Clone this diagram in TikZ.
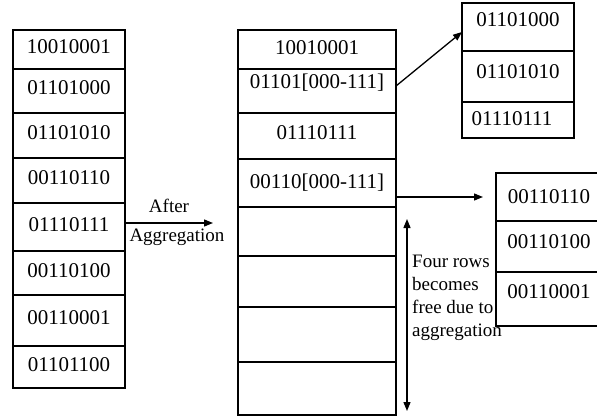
\documentclass[tikz,border=0pt]{standalone}
\usepackage{fontspec}
\setmainfont{Liberation Serif}
\usetikzlibrary{positioning,arrows.meta}
\tikzset{
  cell/.style={draw, line width=1.4pt, inner sep=0pt, outer sep=0pt,
    text height=14pt, text depth=6pt, font=\fontsize{21}{25}\selectfont},
  narrow/.style={cell, minimum width=112pt},
  wide/.style={cell, minimum width=158pt},
  link/.style={-{Triangle[length=9pt,width=7pt]}, line width=1.3pt},
  span/.style={{Triangle[length=9pt,width=7pt]}-{Triangle[length=9pt,width=7pt]}, line width=1.3pt},
  note/.style={font=\fontsize{19}{22.7}\selectfont, inner sep=0pt}
}

\begin{document}
\begin{tikzpicture}[x=1pt, y=-1pt]
  \useasboundingbox (0,0) rectangle (597,417);

  % Table before aggregation
  \node[narrow, minimum height=39pt, anchor=north west] (l1) at (13,30) {10010001};
  \node[narrow, minimum height=44pt, below=0pt of l1] (l2) {01101000};
  \node[narrow, minimum height=45pt, below=0pt of l2] (l3) {01101010};
  \node[narrow, minimum height=45pt, below=0pt of l3] (l4) {00110110};
  \node[narrow, minimum height=48pt, below=0pt of l4] (l5) {01110111};
  \node[narrow, minimum height=44pt, below=0pt of l5] (l6) {00110100};
  \node[narrow, minimum height=51pt, below=0pt of l6] (l7) {00110001};
  \node[narrow, minimum height=42pt, below=0pt of l7] (l8) {01101100};

  % Table after aggregation
  \node[wide, minimum height=39pt, text depth=4pt, anchor=north west] (m1) at (238,30) {10010001};
  \node[wide, minimum height=44pt, text depth=18pt, below=0pt of m1] (m2) {01101[000-111]};
  \node[wide, minimum height=46pt, text depth=7pt, below=0pt of m2] (m3) {01110111};
  \node[wide, minimum height=48pt, text depth=4pt, below=0pt of m3] (m4) {00110[000-111]};
  \node[wide, minimum height=49pt, below=0pt of m4] (m5) {};
  \node[wide, minimum height=51pt, below=0pt of m5] (m6) {};
  \node[wide, minimum height=55pt, below=0pt of m6] (m7) {};
  \node[wide, minimum height=53pt, below=0pt of m7] (m8) {};

  % Rows covered by 01101[000-111]
  \node[narrow, minimum height=48pt, text depth=14pt, anchor=north west] (t1) at (462,3) {01101000};
  \node[narrow, minimum height=51pt, text depth=10pt, below=0pt of t1] (t2) {01101010};
  \node[narrow, minimum height=36pt, text depth=3pt, below=0pt of t2] (t3) {01110111\hspace*{12pt}};

  % Rows covered by 00110[000-111]
  \node[cell, minimum width=106pt, minimum height=48pt, text depth=1pt, anchor=north west] (b1) at (496,173) {00110110};
  \node[cell, minimum width=106pt, minimum height=51pt, text depth=10pt, below=0pt of b1] (b2) {00110100};
  \node[cell, minimum width=106pt, minimum height=54pt, text depth=15pt, below=0pt of b2] (b3) {00110001};

  % Aggregation step
  \coordinate (aggEnd) at (213,223);
  \draw[link] ([yshift=4pt]l5.east) -- node[note, above=10pt] (after) {After}
    node[note, below=5pt, xshift=8pt] (agg) {Aggregation} (aggEnd);

  % Expansion of the aggregated rows
  \draw[link] ([yshift=5pt]m2.east) -- ([yshift=-5pt]t1.west);
  \draw[link] (m4.east |- b1.west) -- ([xshift=-13pt]b1.west);

  % Freed rows
  \coordinate (freeTop) at (407,219);
  \coordinate (freeBot) at (407,411);
  \draw[span] (freeTop) -- (freeBot);
  \node[note, align=left, anchor=base west] (freeNote) at (412,336)
    {Four rows\\becomes\\free due to\\aggregation};

\end{tikzpicture}
\end{document}
